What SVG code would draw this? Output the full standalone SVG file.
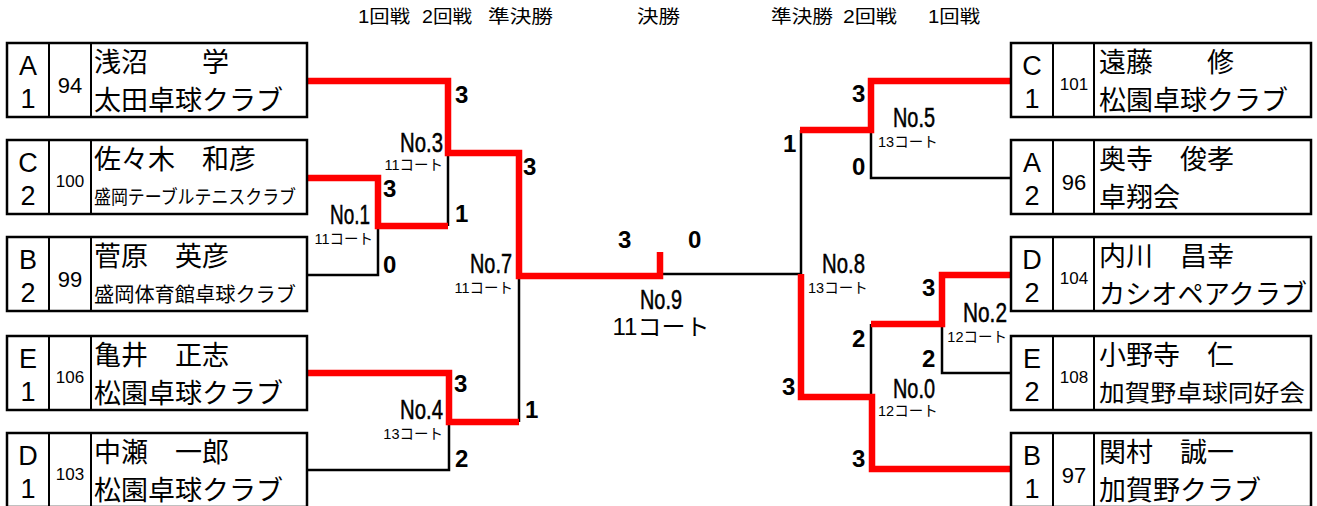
<svg xmlns="http://www.w3.org/2000/svg" width="1317" height="506" viewBox="0 0 1317 506">
<style>
.bg{fill:#fff}
.box{fill:#fff;stroke:#000;stroke-width:2.5}
.dv{stroke:#000;stroke-width:2}
.lt{font-family:"Liberation Sans",Arial,sans-serif;font-size:27px;text-anchor:middle;fill:#000}
.n2{font-family:"Liberation Sans",Arial,sans-serif;font-size:22px;text-anchor:middle;fill:#000}
.n3{font-family:"Liberation Sans",Arial,sans-serif;font-size:17px;text-anchor:middle;fill:#000}
.nm{font-family:"Noto Sans CJK JP",sans-serif;font-size:27px;fill:#000}
.red{fill:none;stroke:#f00;stroke-width:6.5;stroke-linejoin:miter}
.blk{fill:none;stroke:#000;stroke-width:2.5}
.sc{font-family:"Liberation Sans",Arial,sans-serif;font-weight:bold;font-size:24px;fill:#000}
.no{font-family:"Liberation Sans",Arial,sans-serif;font-size:27px;fill:#000;stroke:#000;stroke-width:0.5}
.ct{font-family:"Liberation Sans","Noto Sans CJK JP",sans-serif;font-size:14.5px;fill:#000}
.hd{font-family:"Liberation Sans","Noto Sans CJK JP",sans-serif;font-size:18px;fill:#000}
.e{text-anchor:end}
.m{text-anchor:middle}
</style>
<rect class="bg" x="0" y="0" width="1317" height="506"/>

<g id="headers">
<text class="hd" x="358" y="23" textLength="52" lengthAdjust="spacingAndGlyphs">1回戦</text>
<text class="hd" x="422" y="23" textLength="50" lengthAdjust="spacingAndGlyphs">2回戦</text>
<text class="hd" x="488" y="23" textLength="65" lengthAdjust="spacingAndGlyphs">準決勝</text>
<text class="hd" x="637" y="23" textLength="43" lengthAdjust="spacingAndGlyphs">決勝</text>
<text class="hd" x="771" y="23" textLength="62" lengthAdjust="spacingAndGlyphs">準決勝</text>
<text class="hd" x="843" y="23" textLength="54" lengthAdjust="spacingAndGlyphs">2回戦</text>
<text class="hd" x="928" y="23" textLength="52" lengthAdjust="spacingAndGlyphs">1回戦</text>
</g>

<g id="connectors">
<polyline class="blk" points="306,275 378,275 378,226"/>
<polyline class="blk" points="448,153 448,226"/>
<polyline class="blk" points="519,276 519,422"/>
<polyline class="blk" points="306,470 449,470 449,422"/>
<polyline class="blk" points="660,274 801,274 801,130"/>
<polyline class="blk" points="871,130 871,178 1012,178"/>
<polyline class="blk" points="871,324 871,397"/>
<polyline class="blk" points="942,324 942,373 1012,373"/>
<polyline class="red" points="306,81 448,81 448,153 519,153 519,276 660,276 660,252"/>
<polyline class="red" points="306,178 378,178 378,226 448,226"/>
<polyline class="red" points="306,373 449,373 449,422 519,422"/>
<polyline class="red" points="1012,81 871,81 871,130 800,130"/>
<polyline class="red" points="801,274 801,397 872,397 872,469 1012,469"/>
<polyline class="red" points="871,324 942,324 942,275 1012,275"/>
</g>

<g id="match-labels">
<text class="sc" x="455" y="103">3</text>
<text class="no e" x="443" y="152" textLength="43" lengthAdjust="spacingAndGlyphs">No.3</text>
<text class="ct e" x="443" y="170">11コート</text>
<text class="sc" x="523" y="175">3</text>
<text class="sc" x="383" y="197">3</text>
<text class="sc" x="455" y="222">1</text>
<text class="no e" x="370" y="224" textLength="40" lengthAdjust="spacingAndGlyphs">No.1</text>
<text class="ct e" x="373" y="244">11コート</text>
<text class="sc" x="383" y="273">0</text>
<text class="no e" x="512" y="273" textLength="42" lengthAdjust="spacingAndGlyphs">No.7</text>
<text class="ct e" x="513" y="293">11コート</text>
<text class="sc" x="454" y="392">3</text>
<text class="no e" x="443" y="419" textLength="43" lengthAdjust="spacingAndGlyphs">No.4</text>
<text class="ct e" x="443" y="439">13コート</text>
<text class="sc" x="455" y="467">2</text>
<text class="sc" x="525" y="418">1</text>

<text class="sc" x="618" y="248">3</text>
<text class="sc" x="688" y="248">0</text>
<text class="no m" x="661" y="309" textLength="42" lengthAdjust="spacingAndGlyphs">No.9</text>
<text class="m" x="661" y="335" style="font-family:'Liberation Sans','Noto Sans CJK JP',sans-serif;font-size:23px" textLength="97" lengthAdjust="spacingAndGlyphs">11コート</text>

<text class="sc" x="852" y="102">3</text>
<text class="no" x="893" y="127" textLength="42" lengthAdjust="spacingAndGlyphs">No.5</text>
<text class="ct" x="878" y="147">13コート</text>
<text class="sc" x="783" y="152">1</text>
<text class="sc" x="852" y="175">0</text>
<text class="no" x="822" y="273" textLength="43" lengthAdjust="spacingAndGlyphs">No.8</text>
<text class="ct" x="808" y="293">13コート</text>
<text class="sc" x="922" y="296">3</text>
<text class="no e" x="1007" y="322" textLength="44" lengthAdjust="spacingAndGlyphs">No.2</text>
<text class="ct e" x="1007" y="342">12コート</text>
<text class="sc" x="852" y="347">2</text>
<text class="sc" x="922" y="367">2</text>
<text class="no" x="893" y="398" textLength="42" lengthAdjust="spacingAndGlyphs">No.0</text>
<text class="ct" x="878" y="416">12コート</text>
<text class="sc" x="782" y="395">3</text>
<text class="sc" x="852" y="467">3</text>
</g>

<g id="L1" transform="translate(7,43)">
<rect class="box" x="0" y="0" width="300" height="74"/>
<line class="dv" x1="42" y1="0" x2="42" y2="74"/><line class="dv" x1="84" y1="0" x2="84" y2="74"/>
<text class="lt" x="21" y="32">A</text><text class="lt" x="21" y="65">1</text>
<text class="n2" x="63" y="50">94</text>
<text class="nm" x="87" y="29">浅沼　　学</text>
<text class="nm" x="87" y="67">太田卓球クラブ</text>
</g>
<g id="L2" transform="translate(7,140)">
<rect class="box" x="0" y="0" width="300" height="74"/>
<line class="dv" x1="42" y1="0" x2="42" y2="74"/><line class="dv" x1="84" y1="0" x2="84" y2="74"/>
<text class="lt" x="21" y="32">C</text><text class="lt" x="21" y="65">2</text>
<text class="n3" x="63" y="47">100</text>
<text class="nm" x="87" y="29">佐々木　和彦</text>
<text class="nm" x="87" y="64" style="font-size:19px" textLength="202" lengthAdjust="spacingAndGlyphs">盛岡テーブルテニスクラブ</text>
</g>
<g id="L3" transform="translate(7,237)">
<rect class="box" x="0" y="0" width="300" height="74"/>
<line class="dv" x1="42" y1="0" x2="42" y2="74"/><line class="dv" x1="84" y1="0" x2="84" y2="74"/>
<text class="lt" x="21" y="32">B</text><text class="lt" x="21" y="65">2</text>
<text class="n2" x="63" y="50">99</text>
<text class="nm" x="87" y="29">菅原　英彦</text>
<text class="nm" x="87" y="65" style="font-size:20px" textLength="202" lengthAdjust="spacingAndGlyphs">盛岡体育館卓球クラブ</text>
</g>
<g id="L4" transform="translate(7,336)">
<rect class="box" x="0" y="0" width="300" height="74"/>
<line class="dv" x1="42" y1="0" x2="42" y2="74"/><line class="dv" x1="84" y1="0" x2="84" y2="74"/>
<text class="lt" x="21" y="32">E</text><text class="lt" x="21" y="65">1</text>
<text class="n3" x="63" y="47">106</text>
<text class="nm" x="87" y="29">亀井　正志</text>
<text class="nm" x="87" y="67">松園卓球クラブ</text>
</g>
<g id="L5" transform="translate(7,433)">
<rect class="box" x="0" y="0" width="300" height="74"/>
<line class="dv" x1="42" y1="0" x2="42" y2="74"/><line class="dv" x1="84" y1="0" x2="84" y2="74"/>
<text class="lt" x="21" y="32">D</text><text class="lt" x="21" y="65">1</text>
<text class="n3" x="63" y="47">103</text>
<text class="nm" x="87" y="29">中瀬　一郎</text>
<text class="nm" x="87" y="67">松園卓球クラブ</text>
</g>

<g id="R1" transform="translate(1011,43)">
<rect class="box" x="0" y="0" width="300" height="74"/>
<line class="dv" x1="42" y1="0" x2="42" y2="74"/><line class="dv" x1="83" y1="0" x2="83" y2="74"/>
<text class="lt" x="21" y="32">C</text><text class="lt" x="21" y="65">1</text>
<text class="n3" x="63" y="47">101</text>
<text class="nm" x="88" y="29">遠藤　　修</text>
<text class="nm" x="88" y="67">松園卓球クラブ</text>
</g>
<g id="R2" transform="translate(1011,140)">
<rect class="box" x="0" y="0" width="300" height="74"/>
<line class="dv" x1="42" y1="0" x2="42" y2="74"/><line class="dv" x1="83" y1="0" x2="83" y2="74"/>
<text class="lt" x="21" y="32">A</text><text class="lt" x="21" y="65">2</text>
<text class="n2" x="63" y="50">96</text>
<text class="nm" x="88" y="29">奥寺　俊孝</text>
<text class="nm" x="88" y="67">卓翔会</text>
</g>
<g id="R3" transform="translate(1011,237)">
<rect class="box" x="0" y="0" width="300" height="74"/>
<line class="dv" x1="42" y1="0" x2="42" y2="74"/><line class="dv" x1="83" y1="0" x2="83" y2="74"/>
<text class="lt" x="21" y="32">D</text><text class="lt" x="21" y="65">2</text>
<text class="n3" x="63" y="47">104</text>
<text class="nm" x="88" y="29">内川　昌幸</text>
<text class="nm" x="88" y="67" textLength="208" lengthAdjust="spacingAndGlyphs">カシオペアクラブ</text>
</g>
<g id="R4" transform="translate(1011,336)">
<rect class="box" x="0" y="0" width="300" height="74"/>
<line class="dv" x1="42" y1="0" x2="42" y2="74"/><line class="dv" x1="83" y1="0" x2="83" y2="74"/>
<text class="lt" x="21" y="32">E</text><text class="lt" x="21" y="65">2</text>
<text class="n3" x="63" y="47">108</text>
<text class="nm" x="88" y="29">小野寺　仁</text>
<text class="nm" x="88" y="65" style="font-size:23px" textLength="206" lengthAdjust="spacingAndGlyphs">加賀野卓球同好会</text>
</g>
<g id="R5" transform="translate(1011,433)">
<rect class="box" x="0" y="0" width="300" height="74"/>
<line class="dv" x1="42" y1="0" x2="42" y2="74"/><line class="dv" x1="83" y1="0" x2="83" y2="74"/>
<text class="lt" x="21" y="32">B</text><text class="lt" x="21" y="65">1</text>
<text class="n2" x="63" y="50">97</text>
<text class="nm" x="88" y="29">関村　誠一</text>
<text class="nm" x="88" y="67">加賀野クラブ</text>
</g>
</svg>
